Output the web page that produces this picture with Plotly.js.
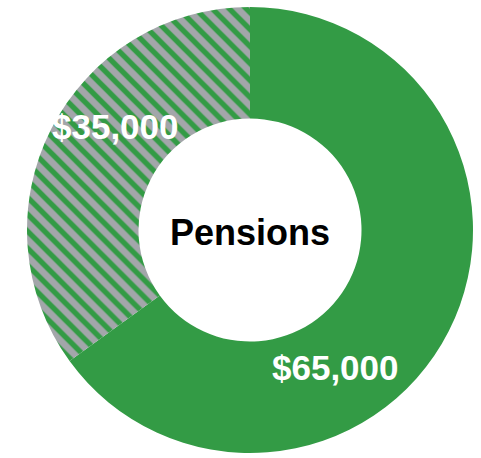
<!DOCTYPE html>
<html><head><meta charset="utf-8">
<script src="https://cdn.plot.ly/plotly-3.0.1.min.js"></script>
<style>html,body{margin:0;padding:0;background:#fff}</style>
</head><body>
<div id="chart" style="width:481px;height:458px"></div>
<script>
const categories = ["Pensions", "Other"];
const values = [65000, 35000];
const valueLabels = ["$65,000", "$35,000"];
const centerLabel = "Pensions";

const green = "#339b45";
const gray = "#a3a6aa";

const trace = {
  type: "pie",
  labels: categories,
  values: values,
  hole: 0.5,
  sort: false,
  direction: "clockwise",
  rotation: 0,
  textinfo: "none",
  hoverinfo: "none",
  marker: {
    colors: [green, gray],
    line: {width: 0},
    pattern: {
      shape: ["", "\\"],
      bgcolor: [green, gray],
      fgcolor: [green, green],
      fgopacity: 1,
      size: 12,
      solidity: 0.45
    }
  },
  showlegend: false
};

const fam = "Liberation Sans, Arial, sans-serif";
const labelFont = {family: fam, size: 35, color: "#ffffff"};
const layout = {
  width: 481, height: 458,
  margin: {l: 27, r: 8, t: 6, b: 4},
  paper_bgcolor: "#ffffff",
  showlegend: false,
  annotations: [
    {text: "<b>" + centerLabel + "</b>", x: 0.5, y: 0.495, xref: "paper", yref: "paper",
     xanchor: "center", yanchor: "middle", showarrow: false,
     font: {family: fam, size: 36, color: "#000000"}},
    {text: "<b>" + valueLabels[0] + "</b>", x: 0.6906, y: 0.193, xref: "paper", yref: "paper",
     xanchor: "center", yanchor: "middle", showarrow: false, font: labelFont},
    {text: "<b>" + valueLabels[1] + "</b>", x: 0.198, y: 0.732, xref: "paper", yref: "paper",
     xanchor: "center", yanchor: "middle", showarrow: false, font: labelFont}
  ]
};
Plotly.newPlot("chart", [trace], layout, {displayModeBar: false, staticPlot: true});
</script>
</body></html>
